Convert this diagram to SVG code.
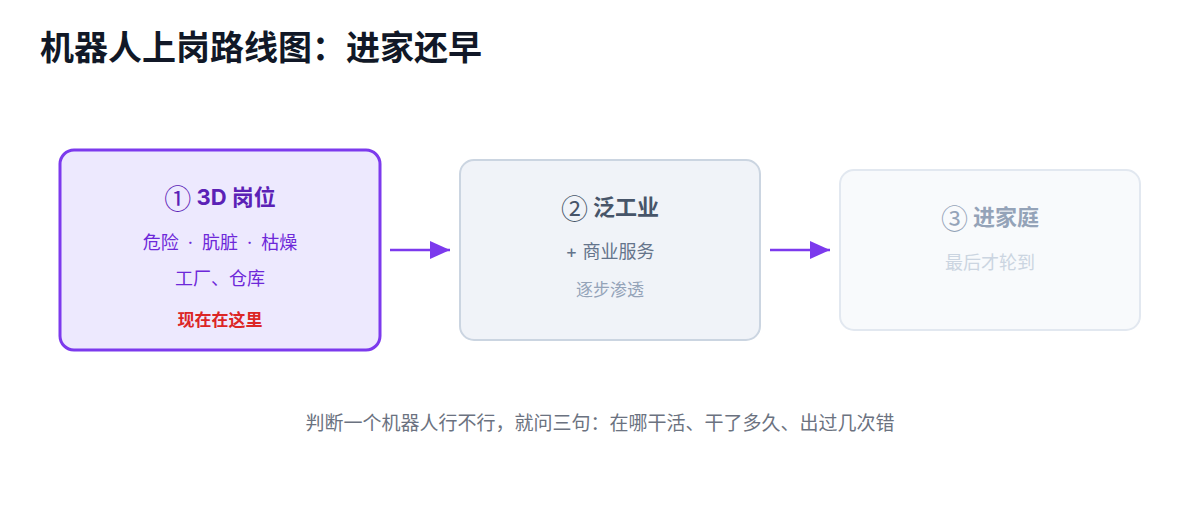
<svg xmlns="http://www.w3.org/2000/svg" width="1200" height="520" viewBox="0 0 1200 520">
<defs>
<style>
text{font-family:"Inter","Noto Sans CJK SC",sans-serif;dominant-baseline:central;text-anchor:middle}
.title{font-size:34px;font-weight:700;fill:#111827;text-anchor:start}
.h{font-size:22px;font-weight:700}
.n{font-weight:400;font-size:27px;font-family:"Noto Sans CJK SC",sans-serif}
.s{font-size:18px}
.t{font-size:17px}
.conn{stroke:#7c3aed;stroke-width:2.5;fill:none}
</style>
<marker id="arr" viewBox="0 0 20 18" refX="20" refY="9" markerWidth="20" markerHeight="18" markerUnits="userSpaceOnUse" orient="auto">
<path d="M0,0 L20,9 L0,18 Z" fill="#7c3aed"/>
</marker>
</defs>
<rect width="1200" height="520" fill="#ffffff"/>
<text class="title" x="40" y="47">机器人上岗路线图：进家还早</text>
<g id="connectors">
<line class="conn" x1="390" y1="250" x2="450" y2="250" marker-end="url(#arr)"/>
<line class="conn" x1="770" y1="250" x2="830" y2="250" marker-end="url(#arr)"/>
</g>
<g id="node1">
<rect x="60" y="150" width="320" height="200" rx="14" fill="#ede9fe" stroke="#7c3aed" stroke-width="3"/>
<text class="h" x="220" y="197" fill="#5b21b6"><tspan class="n">①</tspan> 3D 岗位</text>
<text class="s" x="220" y="242" fill="#6d28d9">危险&#8194;·&#8194;肮脏&#8194;·&#8194;枯燥</text>
<text class="s" x="220" y="278" fill="#6d28d9">工厂、仓库</text>
<text class="t" x="220" y="320" fill="#dc2626" font-weight="700">现在在这里</text>
</g>
<g id="node2">
<rect x="460" y="160" width="300" height="180" rx="14" fill="#f0f3f8" stroke="#cbd5e1" stroke-width="2"/>
<text class="h" x="610" y="207" fill="#475569"><tspan class="n">②</tspan> 泛工业</text>
<text class="s" x="610" y="251" fill="#64748b">+ 商业服务</text>
<text class="t" x="610" y="290" fill="#94a3b8">逐步渗透</text>
</g>
<g id="node3">
<rect x="840" y="170" width="300" height="160" rx="14" fill="#f8fafc" stroke="#e2e8f0" stroke-width="2"/>
<text class="h" x="990" y="217" fill="#94a3b8"><tspan class="n">③</tspan> 进家庭</text>
<text class="s" x="990" y="262" fill="#cbd5e1">最后才轮到</text>
</g>
<text x="600" y="423" fill="#6b7280" font-size="19">判断一个机器人行不行，就问三句：在哪干活、干了多久、出过几次错</text>
</svg>
